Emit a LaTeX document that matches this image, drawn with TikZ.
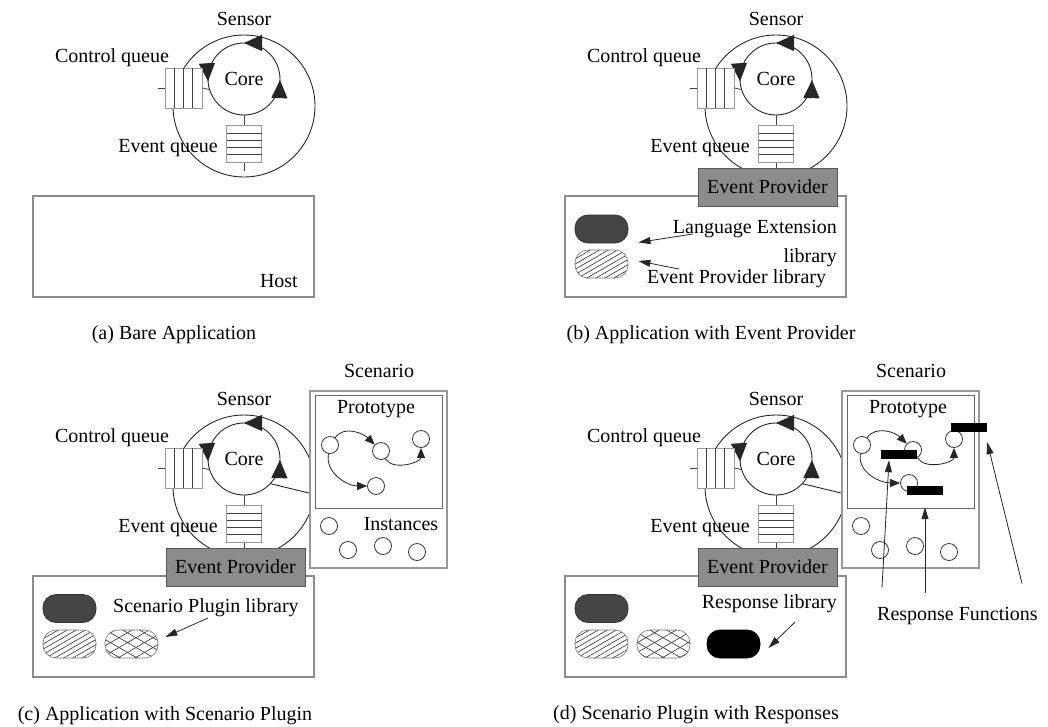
\documentclass[tikz,border=0pt]{standalone}
\usepackage{fontspec}
\setmainfont{Liberation Serif}
\usetikzlibrary{arrows.meta, patterns.meta, decorations.markings, positioning}

\begin{document}
\begin{tikzpicture}[x=1pt, y=-1pt,
    txt/.style={font=\fontsize{20}{24}\selectfont, inner sep=0pt},
    loopline/.style={draw=black!85, line width=0.9pt},
    coretip/.tip={Triangle[length=18pt,width=16pt]},
    coreloop/.style={draw=black!85, line width=0.9pt, postaction={decorate},
      decoration={markings,
        mark=at position 0.25 with {\arrow{coretip}},
        mark=at position 0.51 with {\arrow{coretip}},
        mark=at position 0.995 with {\arrow{coretip}}}},
    queue/.style={draw=black!40, fill=white, line width=1pt, inner sep=0pt},
    qline/.style={black!75, line width=0.8pt},
    hostbox/.style={draw=black!45, line width=1.6pt, inner sep=0pt, minimum width=281pt, minimum height=101pt},
    provbox/.style={draw=black!65, fill=black!45, line width=1pt, inner sep=0pt,
      minimum width=139pt, minimum height=38pt, font=\fontsize{20}{24}\selectfont},
    pill/.style={rounded corners=13pt, minimum width=53pt, minimum height=28pt, inner sep=0pt},
    darkpill/.style={pill, fill=black!73, draw=black!80, line width=0.8pt},
    blackpill/.style={pill, fill=black, draw=black, line width=0.8pt},
    hatch/.style={pill, draw=black!55, line width=0.6pt, pattern color=black!75,
      pattern={Lines[angle=30, distance=4.5pt, line width=0.7pt]}},
    xhatch/.style={pill, draw=black!55, line width=0.6pt, pattern color=black!75,
      pattern={Lines[angle=30, distance=8.5pt, line width=0.7pt]},
      postaction={pattern color=black!75, pattern={Lines[angle=-30, distance=8.5pt, line width=0.7pt]}}},
    scenbox/.style={draw=black!40, fill=white, line width=2.2pt, inner sep=0pt, minimum width=137pt, minimum height=177pt},
    protobox/.style={draw=black!60, line width=0.8pt, inner sep=0pt, minimum width=127pt, minimum height=113pt},
    inst/.style={circle, draw=black!80, fill=white, line width=0.8pt, minimum size=17pt, inner sep=0pt},
    flow/.style={black!85, line width=0.8pt, -{Triangle[length=10pt,width=8pt]}},
    bar/.style={fill=black, inner sep=0pt, minimum width=36pt, minimum height=9pt},
    ptr/.style={black!85, line width=0.8pt, -{Triangle[length=12pt,width=7pt]}}]

  \useasboundingbox (0,0) rectangle (1048,726);

  % APPLICATION (same in all four panels)
  \foreach \p/\dx/\dy in {a/0/0, b/532/0, c/0/380, d/532/380} {
    \begin{scope}[shift={(\dx,\dy)}]
      % sensor loop
      \node[circle, minimum size=142pt, inner sep=0pt, loopline] (loop\p) at (244,106) {};
      \node[txt, anchor=base] (sens\p) at (244,25) {Sensor};

      % core
      \node[circle, minimum size=72pt, inner sep=0pt, txt] (core\p) at (244,79) {Core};
      \draw[coreloop] (core\p.center) circle[radius=36pt];

      % control queue
      \node[queue, minimum width=37pt, minimum height=40pt] (ctlq\p) at (183.5,88) {};
      \foreach \x in {174.5,183.5,192.5} \draw[qline] (\x,68) -- (\x,108);
      \draw[qline] (ctlq\p.west) -- ++(-7,0);
      \draw[qline] (ctlq\p.east) -- (core\p.197);
      \node[txt, anchor=base] (ctlqlbl\p) at (112,62) {Control queue};

      % event queue
      \node[queue, minimum width=35pt, minimum height=37pt] (evq\p) at (244,143.5) {};
      \foreach \y in {133,140,147,154} \draw[qline] (226.5,\y) -- (261.5,\y);
      \draw[qline] (core\p.south) -- (evq\p.north);
      \draw[qline] (evq\p.south) -- ++(0,8);
      \node[txt, anchor=base east] (evqlbl\p) at (218,152) {Event queue};

      % host
      \node[hostbox] (host\p) at (173.5,246.5) {};
    \end{scope}
  }

  % (a) Bare application
  \node[txt, anchor=base east] (hostlbl) at (298,287) {Host};
  \node[txt, anchor=base] (capa) at (174,339) {(a) Bare Application};

  % (b) Event provider
  \begin{scope}[shift={(532,0)}]
    \node[provbox] (epb) at (235.5,187) {Event Provider};
    \node[darkpill] (langpillb) at (69.5,229) {};
    \node[hatch] (evppillb) at (69.5,264) {};
    \node[txt, align=right, anchor=base east] (langlbl) at (305,262) {Language Extension\hspace{0.5em}\\[5pt]library};
    \node[txt, anchor=base west] (evplbl) at (115,283) {Event Provider library};
    \draw[ptr] ([xshift=20pt, yshift=28pt]langlbl.base west) -- ([xshift=10pt, yshift=1pt]langpillb.south east);
    \draw[ptr] ([xshift=32pt, yshift=14pt]evplbl.base west) -- ([xshift=10pt, yshift=3pt]evppillb.east);
  \end{scope}
  \node[txt, anchor=base] (capb) at (711,339) {(b) Application with Event Provider};

  % (c) Scenario plugin
  \begin{scope}[shift={(0,380)}]
    \node[provbox] (epc) at (235.5,187) {Event Provider};

    % scenario
    \node[scenbox] (scenc) at (378.5,99.5) {};
    \node[protobox] (protoc) at (378.5,71.5) {};
    \node[txt, anchor=base] (scenlblc) at (379,-3) {Scenario};
    \node[txt, anchor=base] (protolblc) at (376,33) {Prototype};
    \node[inst] (p1c) at (330,65) {};
    \node[inst] (p2c) at (381,71) {};
    \node[inst] (p3c) at (421,59) {};
    \node[inst] (p4c) at (376,106) {};
    \draw[flow] (p1c) to[out=55, in=135] (p2c);
    \draw[flow] (p1c) to[out=-100, in=180] (p4c);
    \draw[flow] (p2c) to[out=-60, in=-90] (p3c);
    \node[txt, anchor=base] (instlblc) at (401,150) {Instances};
    \node[inst] (i1c) at (329,146) {};
    \node[inst] (i2c) at (348,170) {};
    \node[inst] (i3c) at (383,166) {};
    \node[inst] (i4c) at (417,172) {};
    \draw[loopline] (corec.-43) -- ([yshift=-13.5pt]scenc.west);

    % libraries
    \node[darkpill] (langpillc) at (69.5,228.5) {};
    \node[hatch] (evppillc) at (69.5,264) {};
    \node[xhatch] (scppillc) at (131.5,264) {};
    \node[txt, anchor=base west] (scplbl) at (113,232) {Scenario Plugin library};
    \draw[ptr] ([xshift=95pt, yshift=-6pt]scplbl.base west) -- ([xshift=7pt, yshift=7pt]scppillc.east);
  \end{scope}
  \node[txt, anchor=base] (capc) at (165,720) {(c) Application with Scenario Plugin};

  % (d) Scenario plugin with responses
  \begin{scope}[shift={(532,380)}]
    \node[provbox] (epd) at (235.5,187) {Event Provider};

    % scenario
    \node[scenbox] (scend) at (378.5,99.5) {};
    \node[protobox] (protod) at (378.5,71.5) {};
    \node[txt, anchor=base] (scenlbld) at (379,-3) {Scenario};
    \node[txt, anchor=base] (protolbld) at (376,33) {Prototype};
    \node[inst] (p1d) at (330,65) {};
    \node[inst] (p2d) at (381,70) {};
    \node[inst] (p3d) at (422,59) {};
    \node[inst] (p4d) at (377,103) {};
    \draw[flow] (p1d) to[out=55, in=135] (p2d);
    \draw[flow] (p1d) to[out=-100, in=180] (p4d);
    \draw[flow] (p2d) to[out=-60, in=-90] (p3d);
    \node[inst] (i1d) at (329,146) {};
    \node[inst] (i2d) at (348,170) {};
    \node[inst] (i3d) at (383,166) {};
    \node[inst] (i4d) at (417,172) {};
    \draw[loopline] (cored.-43) -- ([yshift=-13.5pt]scend.west);

    % responses
    \node[bar] (bar1) at (367,74.5) {};
    \node[bar] (bar2) at (437,47.5) {};
    \node[bar] (bar3) at (393,110.5) {};
    \node[txt, anchor=base west] (resplbl) at (345,240) {Response Functions};
    \draw[ptr] ([xshift=5pt, yshift=19pt]resplbl.north west) -- ([xshift=-10pt, yshift=-1pt]bar1.south);
    \draw[ptr] ([xshift=48pt, yshift=14pt]resplbl.north west) -- ([yshift=-12pt]bar3.south);
    \draw[ptr] ([xshift=145pt, yshift=23pt]resplbl.north west) -- ([yshift=-10pt]bar2.south east);

    % libraries
    \node[darkpill] (langpilld) at (69.5,228.5) {};
    \node[hatch] (evppilld) at (69.5,264) {};
    \node[xhatch] (scppilld) at (131.5,264) {};
    \node[blackpill] (resppilld) at (201.5,264) {};
    \node[txt, anchor=base east] (rsplbl) at (305,228) {Response library};
    \draw[ptr] ([xshift=-42pt, yshift=-14pt]rsplbl.base east) -- ([xshift=8pt, yshift=-4pt]resppilld.east);
  \end{scope}
  \node[txt, anchor=base] (capd) at (696,719) {(d) Scenario Plugin with Responses};
\end{tikzpicture}
\end{document}
